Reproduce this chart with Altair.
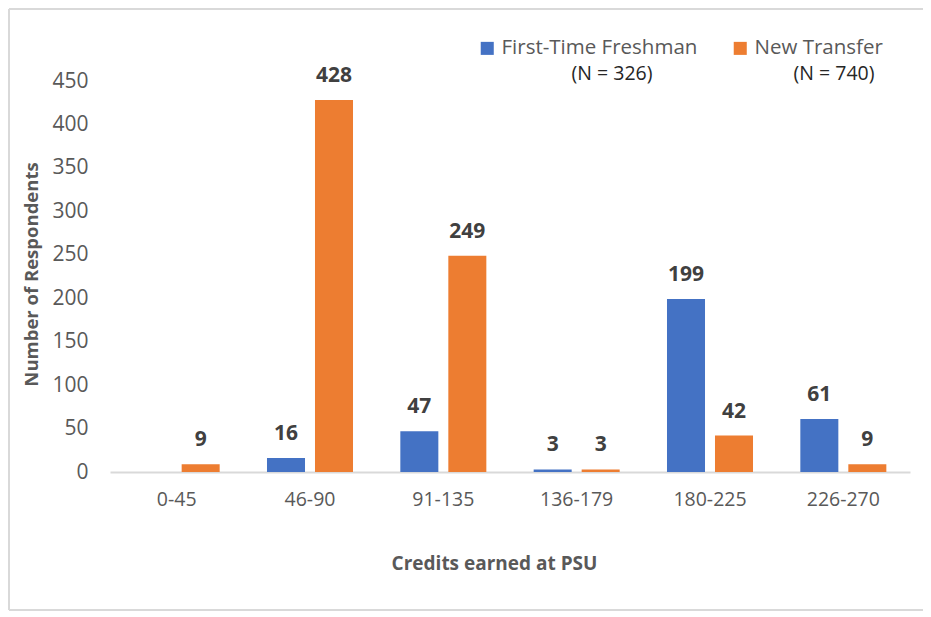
import altair as alt
import pandas as pd

categories = ["0-45", "46-90", "91-135", "136-179", "180-225", "226-270"]
series = ["First-Time Freshman", "New Transfer"]
freshman = [None, 16, 47, 3, 199, 61]
transfer = [9, 428, 249, 3, 42, 9]
n_values = [326, 740]
colors = ["#4472C4", "#ED7D31"]
y_ticks = [0, 50, 100, 150, 200, 250, 300, 350, 400, 450]

rows = []
for c, f, t in zip(categories, freshman, transfer):
    if f is not None:
        rows.append({"cat": c, "series": series[0], "value": f})
    if t is not None:
        rows.append({"cat": c, "series": series[1], "value": t})
df = pd.DataFrame(rows)

FONT = "Open Sans"
W, H = 800, 391

x_enc = alt.X("cat:N", sort=categories,
              scale=alt.Scale(paddingInner=0, paddingOuter=0),
              axis=alt.Axis(title="Credits earned at PSU", labelAngle=0,
                            labelFont=FONT, labelFontSize=19.5, labelColor="#595959",
                            labelPadding=18, ticks=False, domainColor="#d9d9d9",
                            domainWidth=2, grid=False,
                            titleFont=FONT, titleFontSize=19, titleFontWeight="bold",
                            titleColor="#595959", titleX=384, titleY=91,
                            titleBaseline="middle", titleAlign="center"))
xoff = alt.XOffset("series:N", sort=series,
                   scale=alt.Scale(paddingInner=0.208, paddingOuter=0.493))
y_enc = alt.Y("value:Q", scale=alt.Scale(domain=[0, 450], nice=False),
              axis=alt.Axis(title="Number of Respondents", values=y_ticks,
                            labelFont=FONT, labelFontSize=21, labelColor="#595959",
                            labelPadding=22, ticks=False, domain=False, grid=False,
                            titleFont=FONT, titleFontSize=18.5, titleFontWeight="bold",
                            titleColor="#595959", titleX=-79, titleY=193,
                            titleAngle=270, titleBaseline="middle", titleAlign="center"))

base = alt.Chart(df)

bars = base.mark_bar().encode(
    x=x_enc, xOffset=xoff, y=y_enc,
    color=alt.Color("series:N", sort=series,
                    scale=alt.Scale(domain=series, range=colors),
                    legend=alt.Legend(title=None, orient="none", direction="horizontal",
                                      legendX=367, legendY=-43,
                                      symbolType="square", symbolSize=170,
                                      symbolStrokeWidth=0, symbolOpacity=1,
                                      labelFont=FONT, labelFontSize=20.5,
                                      labelColor="#595959", labelOffset=4,
                                      labelLimit=400,
                                      columnPadding=32, padding=0)),
)

labels = base.mark_text(font=FONT, fontSize=21, fontWeight="bold", color="#404040",
                        baseline="alphabetic", dy=-18).encode(
    x=alt.X("cat:N", sort=categories), xOffset=xoff, y="value:Q",
    text="value:Q",
)

n_df = pd.DataFrame({"label": [f"(N = {n})" for n in n_values], "series": series})
n1 = alt.Chart(n_df[n_df.series == series[0]]).mark_text(
    font=FONT, fontSize=19.5, color="#262626", baseline="middle", align="center"
).encode(x=alt.value(502), y=alt.value(-7), text="label:N")
n2 = alt.Chart(n_df[n_df.series == series[1]]).mark_text(
    font=FONT, fontSize=19.5, color="#262626", baseline="middle", align="center"
).encode(x=alt.value(724), y=alt.value(-7), text="label:N")

frame = alt.Chart(pd.DataFrame({"k": [0]}))
top_line = frame.mark_rule(color="#d9d9d9", strokeWidth=2).encode(
    x=alt.value(-101), x2=alt.value(815), y=alt.value(-72))
left_line = frame.mark_rule(color="#d9d9d9", strokeWidth=2).encode(
    x=alt.value(-101), y=alt.value(-72), y2=alt.value(529))
bottom_line = frame.mark_rule(color="#d9d9d9", strokeWidth=2).encode(
    x=alt.value(-101), x2=alt.value(815), y=alt.value(529))

chart = alt.layer(top_line, left_line, bottom_line, bars, labels, n1, n2).properties(
    width=W, height=H,
    background="white",
    padding={"left": 102, "top": 73, "right": 13, "bottom": 141},
    autosize=alt.AutoSizeParams(type="none"),
).configure_view(strokeWidth=0)

chart.save("out.html", embed_options={"renderer": "svg", "actions": False})
